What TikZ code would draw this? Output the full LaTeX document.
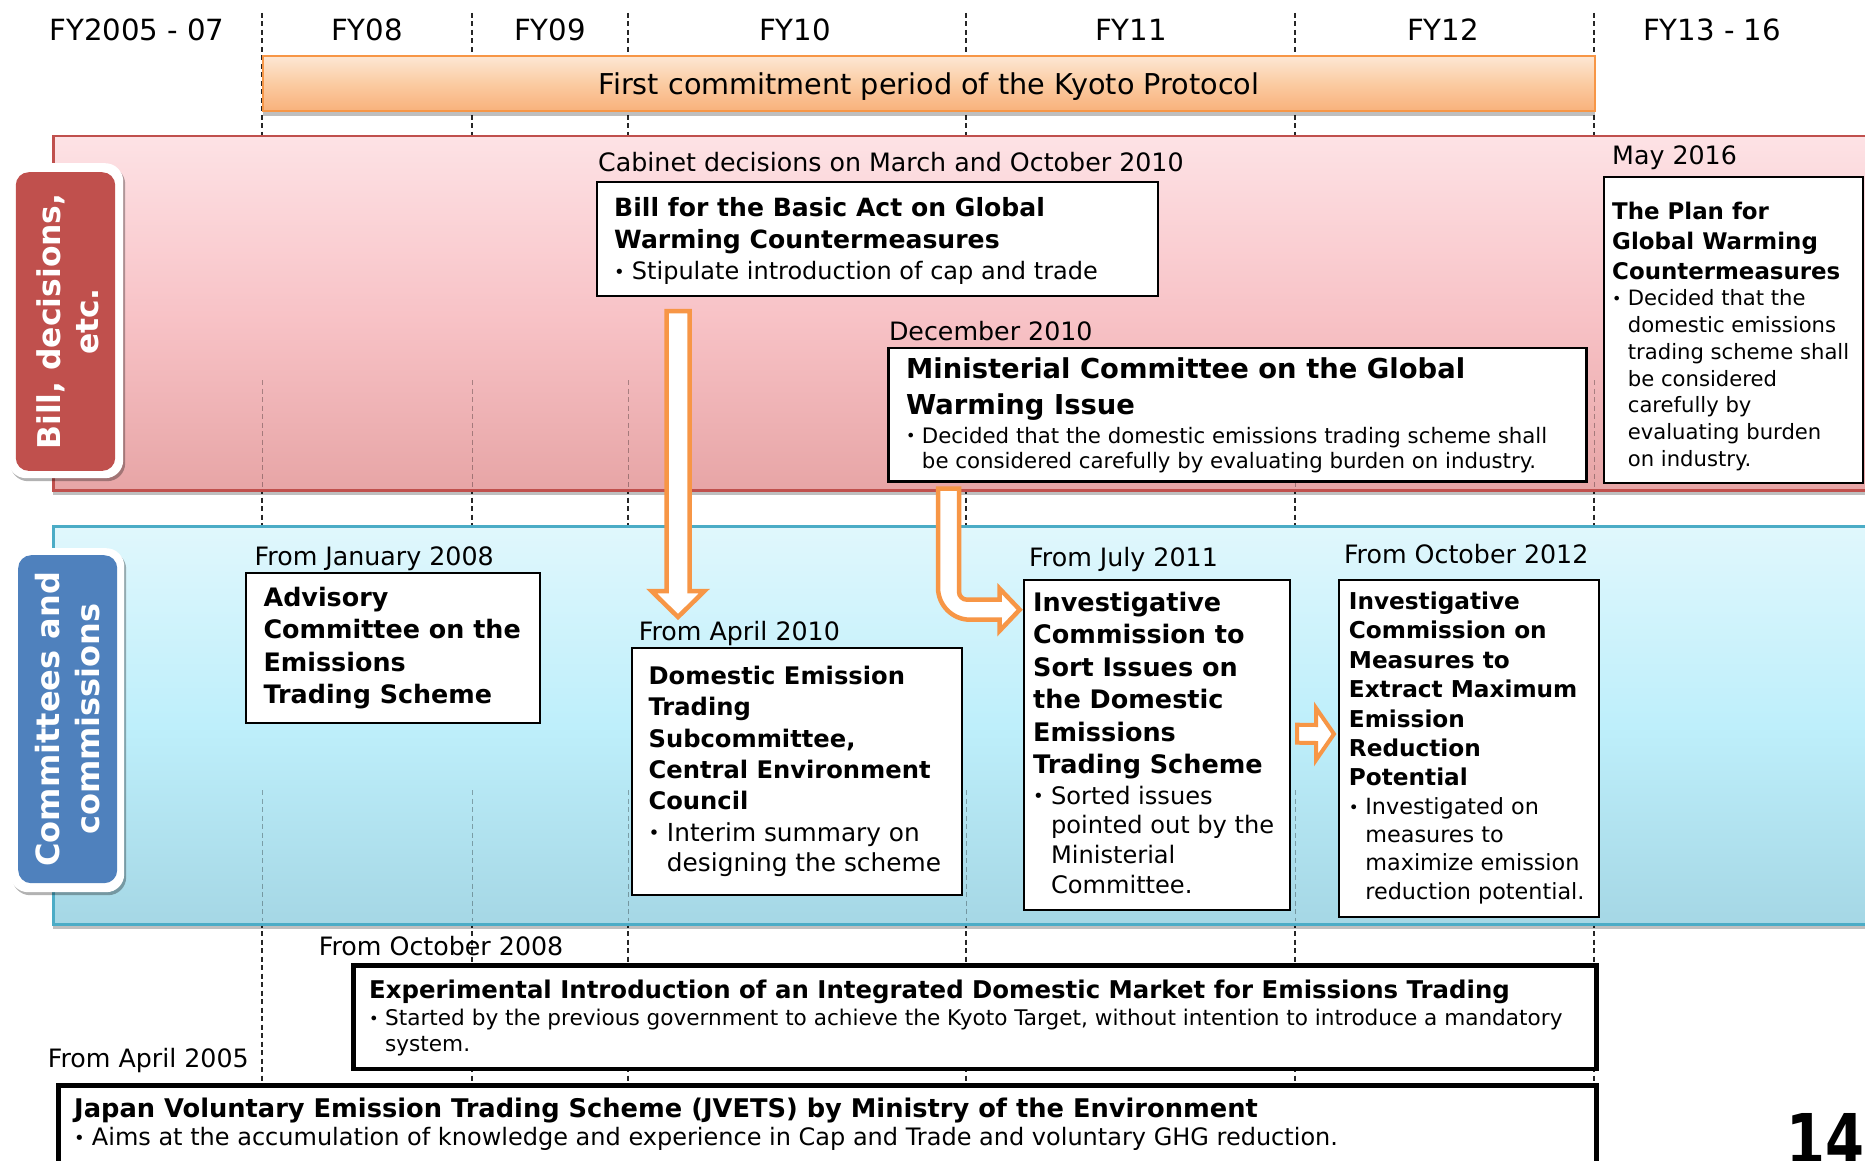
\documentclass[tikz,border=0pt]{standalone}
\usepackage{fontspec}
\usepackage{graphicx}
\setmainfont{DejaVu Sans}
\usetikzlibrary{calc,shadows}
\definecolor{korange}{HTML}{F79646}
\definecolor{kred}{HTML}{C0504D}
\definecolor{kblue}{HTML}{4F81BD}
\definecolor{kteal}{HTML}{4BACC6}
\definecolor{pinkA}{HTML}{FDE2E5}
\definecolor{pinkB}{HTML}{F8C3C7}
\definecolor{pinkC}{HTML}{E7A5A6}
\definecolor{blueA}{HTML}{E0F7FC}
\definecolor{blueB}{HTML}{BEEFFB}
\definecolor{blueC}{HTML}{A5D7E5}
\definecolor{orA}{HTML}{FDE7D4}
\definecolor{orB}{HTML}{FBCBA2}
\definecolor{orC}{HTML}{F8B17B}
\newcommand\fsz[2]{\fontsize{#1}{#2}\selectfont\spaceskip=0pt\relax\xspaceskip=0pt\relax}
\newcommand\bul{\makebox[0.74em][l]{\raisebox{0.05em}{\scalebox{0.75}{\textbullet}}}}
\newcommand\ind{\hspace*{0.74em}}
\newcommand\gapv[1]{\par\vskip#1pt}
\tikzset{
  yearlbl/.style={font=\fsz{29.2}{35}, anchor=base, inner sep=0pt},
  datelbl/.style={font=\fsz{25.3}{30}, anchor=base west, inner sep=0pt},
  txt/.style={anchor=base west, inner sep=0pt, align=left, text width=1400pt},
  boxframe/.style={draw=black, line width=2pt, fill=white, anchor=north west, inner sep=0pt},
  dline/.style={dash pattern=on 5pt off 3.5pt, line width=1.3pt, black!85},
  faint/.style={dash pattern=on 5pt off 3.5pt, line width=1pt, black, opacity=0.3},
  harrow/.style={draw=korange, line width=4.5pt, fill=white, line join=miter},
  band/.style={anchor=north west, inner sep=0pt, line width=2.5pt, drop shadow={shadow xshift=0pt, shadow yshift=-5pt, opacity=0.25, fill=black}},
  sidelbl/.style={rotate=90, align=center, text=white, inner sep=0pt},
  sideframe/.style={anchor=north west, inner sep=0pt, fill=white, rounded corners=18pt, drop shadow={shadow xshift=2pt, shadow yshift=-3pt, opacity=0.3, fill=black}},
  sidebox/.style={anchor=north west, inner sep=0pt, rounded corners=13pt},
}
\begin{document}
\begin{tikzpicture}[x=1pt,y=-1pt]
\useasboundingbox (0,0) rectangle (1865,1161);
\clip (0,0) rectangle (1865,1161);
\fill[white] (0,0) rectangle (1865,1161);
% year separators
\foreach \xx/\nm in {262/a,472/b,628/c,966/d,1295/e,1594/f}{
  \coordinate (top\nm) at (\xx,13);
  \coordinate (bot\nm) at (\xx,1083);
  \draw[dline] (top\nm) -- (bot\nm);
}
% year labels
\node[yearlbl] (y1) at (137,40.5) {FY2005 - 07};
\node[yearlbl] (y2) at (367,40.5) {FY08};
\node[yearlbl] (y3) at (550,40.5) {FY09};
\node[yearlbl] (y4) at (795,40.5) {FY10};
\node[yearlbl] (y5) at (1131,40.5) {FY11};
\node[yearlbl] (y6) at (1443,40.5) {FY12};
\node[yearlbl] (y7) at (1712,40.5) {FY13 - 16};
% Kyoto bar
\node[anchor=north west, minimum width=1332, minimum height=55, inner sep=0pt, draw=korange, line width=2pt,
      top color=orA, bottom color=orC, middle color=orB, text depth=0pt,
      drop shadow={shadow xshift=0pt, shadow yshift=-5pt, opacity=0.25, fill=black},
      font=\fsz{28.7}{34}] (kyoto) at (262,55) {First commitment period of the Kyoto Protocol};
% bands
\node[band, minimum width=1830, minimum height=354, draw=kred, top color=pinkA, bottom color=pinkC, middle color=pinkB] (band1) at (52,135) {};
\node[band, minimum width=1830, minimum height=398, draw=kteal, top color=blueA, bottom color=blueC, middle color=blueB] (band2) at (52,525) {};
\foreach \xx in {262,472,628,1295,1594}{\draw[faint] (\xx,380) -- (\xx,487);}
\foreach \xx in {262,472,628,966,1295}{\draw[faint] (\xx,790) -- (\xx,921);}
% side labels
\node[sideframe, minimum width=115, minimum height=315] (redframe) at (8,163) {};
\node[sidebox, fill=kred, minimum width=99.4, minimum height=298.7] (redlab) at (15.6,172) {};
\node[sidelbl, font=\fsz{31.4}{38}\bfseries] (redtxt) at ($(redlab.center)+(2,0)$) {Bill, decisions,\\etc.};
\node[sideframe, minimum width=114, minimum height=344] (blueframe) at (10,548) {};
\node[sidebox, fill=kblue, minimum width=99, minimum height=328] (bluelab) at (18,555) {};
\node[sidelbl, font=\fsz{32}{40}\bfseries] (bluetxt) at (bluelab.center) {Committees and\\commissions};
% date labels
\node[datelbl] (l1) at (598,171.3) {Cabinet decisions on March and October 2010};
\node[datelbl] (l2) at (888.8,340) {December 2010};
\node[datelbl] (l3) at (1612,165) {May 2016};
\node[datelbl] (l4) at (254.5,565) {From January 2008};
\node[datelbl] (l5) at (638.7,640) {From April 2010};
\node[datelbl] (l6) at (1029,566.3) {From July 2011};
\node[datelbl] (l7) at (1343.8,563.3) {From October 2012};
\node[datelbl] (l8) at (318.7,955) {From October 2008};
\node[datelbl] (l9) at (47.6,1067.3) {From April 2005};
% boxes
\node[boxframe, minimum width=561, minimum height=114] (bill) at (596,181) {};
\node[txt] (billtxt) at (614,216.3) {\fsz{25.1}{32}\bfseries Bill for the Basic Act on Global\\Warming Countermeasures\par
  \fsz{24}{31.4}\mdseries\bul Stipulate introduction of cap and trade\par};
\node[boxframe, line width=2.5pt, minimum width=698, minimum height=133.5] (mini) at (887,346.5) {};
\node[txt] (minitxt) at (906,378) {\fsz{27.4}{36}\bfseries Ministerial Committee on the Global\\Warming Issue\gapv{3.3}
  \fsz{21.3}{25.7}\mdseries\bul Decided that the domestic emissions trading scheme shall\\\ind be considered carefully by evaluating burden on industry.\par};
\node[boxframe, minimum width=259, minimum height=306] (plan) at (1603,176) {};
\node[txt] (plantxt) at (1612,219.3) {\fsz{22.9}{30}\bfseries The Plan for\\Global Warming\\Countermeasures\par
  \fsz{21.15}{26.7}\mdseries\bul Decided that the\\\ind domestic emissions\\\ind trading scheme shall\\\ind be considered\\\ind carefully by\\\ind evaluating burden\\\ind on industry.\par};
\node[boxframe, minimum width=294, minimum height=150] (advis) at (245,572) {};
\node[txt] (advistxt) at (263.4,606.7) {\fsz{25.4}{32.2}\bfseries Advisory\\Committee on the\\Emissions\\Trading Scheme\par};
\node[boxframe, minimum width=330.7, minimum height=247] (domes) at (630.7,647) {};
\node[txt] (domestxt) at (648.4,684.7) {\fsz{24.2}{31.25}\bfseries Domestic Emission\\Trading\\Subcommittee,\\Central Environment\\Council\gapv{1.5}
  \fsz{24.8}{30}\mdseries\bul Interim summary on\\\ind designing the scheme\par};
\node[boxframe, minimum width=266.3, minimum height=330.3] (inv1) at (1022.7,578.7) {};
\node[txt] (inv1txt) at (1033,611.4) {\fsz{25.5}{32.4}\bfseries Investigative\\Commission to\\Sort Issues on\\the Domestic\\Emissions\\Trading Scheme\gapv{0.9}
  \fsz{24.1}{29.7}\mdseries\bul Sorted issues\\\ind pointed out by the\\\ind Ministerial\\\ind Committee.\par};
\node[boxframe, minimum width=260, minimum height=336.7] (inv2) at (1338,579) {};
\node[txt] (inv2txt) at (1348.7,609.4) {\fsz{23.2}{29.4}\bfseries Investigative\\Commission on\\Measures to\\Extract Maximum\\Emission\\Reduction\\Potential\gapv{0.4}
  \fsz{22.3}{28.2}\mdseries\bul Investigated on\\\ind measures to\\\ind maximize emission\\\ind reduction potential.\par};
\node[boxframe, line width=4.5pt, minimum width=1243, minimum height=103.5] (exper) at (351,963) {};
\node[txt] (expertxt) at (369,998) {\fsz{24.4}{30}\bfseries Experimental Introduction of an Integrated Domestic Market for Emissions Trading\gapv{1.7}
  \fsz{21.6}{25.7}\mdseries\bul Started by the previous government to achieve the Kyoto Target, without intention to introduce a mandatory\\\ind system.\par};
\node[boxframe, line width=4.5pt, minimum width=1538, minimum height=150] (jvets) at (56,1083) {};
\node[txt] (jvetstxt) at (74,1117.5) {\fsz{25.7}{31}\bfseries Japan Voluntary Emission Trading Scheme (JVETS) by Ministry of the Environment\par
  \fsz{24}{27.8}\mdseries\bul Aims at the accumulation of knowledge and experience in Cap and Trade and voluntary GHG reduction.\par};
% arrow 1: bill -> domestic
\coordinate (a1s) at ($(bill.south west)+(82,14)$);
\coordinate (a1e) at ($(domes.north west)+(47.3,-30)$);
\draw[harrow] ($(a1s)+(-11.5,0)$) -- ($(a1s |- a1e)+(-11.5,-26)$) -- ($(a1s |- a1e)+(-26.5,-26)$) -- (a1s |- a1e)
  -- ($(a1s |- a1e)+(26.5,-26)$) -- ($(a1s |- a1e)+(11.5,-26)$) -- ($(a1s)+(11.5,0)$) -- cycle;
% arrow 2: ministerial -> inv1 (bent)
\coordinate (a2s) at ($(mini.south west)+(61.5,6)$);
\coordinate (a2e) at ($(inv1.north west)+(-3,31)$);
\coordinate (a2c) at (a2s |- a2e);
\draw[harrow] ($(a2s)+(-10.5,0)$) -- ($(a2c)+(-10.5,-22)$)
  .. controls ($(a2c)+(-10.5,-4.4)$) and ($(a2c)+(3.9,10)$) .. ($(a2c)+(21.5,10)$)
  -- ($(a2e)+(-20,10)$) -- ($(a2e)+(-20,21)$) -- (a2e) -- ($(a2e)+(-20,-21)$) -- ($(a2e)+(-20,-10)$)
  -- ($(a2c)+(18.5,-10)$) .. controls ($(a2c)+(14.1,-10)$) and ($(a2c)+(10.5,-13.6)$) .. ($(a2c)+(10.5,-18)$)
  -- ($(a2s)+(10.5,0)$) -- cycle;
% arrow 3: inv1 -> inv2
\coordinate (a3s) at ($(inv1.north east)+(6,155)$);
\coordinate (a3e) at ($(inv2.north west)+(-4,155)$);
\draw[harrow, line width=4pt] ($(a3s)+(0,-9)$) -- ($(a3e)+(-18,-9)$) -- ($(a3e)+(-18,-26)$) -- (a3e)
  -- ($(a3e)+(-18,26)$) -- ($(a3e)+(-18,9)$) -- ($(a3s)+(0,9)$) -- cycle;
% page number
\node[anchor=base west, inner sep=0pt, font=\fsz{70}{80}\bfseries] (pnum) at (1786,1164) {\scalebox{0.8}[1]{14}};
\end{tikzpicture}
\end{document}
